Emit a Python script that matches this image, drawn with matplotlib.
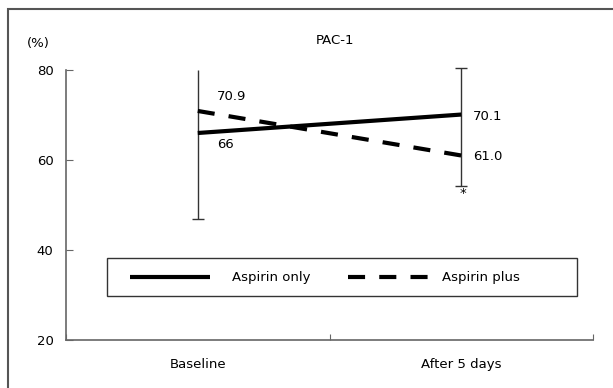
import numpy as np
import matplotlib
matplotlib.use('Agg')
import matplotlib.pyplot as plt
from matplotlib.patches import Rectangle
from matplotlib.lines import Line2D

# 데이터
categories = ['Baseline', 'After 5 days']
aspirin_only = [66.0, 70.1]
aspirin_plus = [70.9, 61.0]
only_labels = ['66', '70.1']
plus_labels = ['70.9', '61.0']
bar_low = [47.0, 54.3]
bar_high = [80.0, 80.4]
yticks = [20, 40, 60, 80]

plt.rcParams['font.family'] = ['DejaVu Sans']
fs = 9.5

fig = plt.figure(figsize=(6.13, 3.88), dpi=100)
W, H = 613, 388
ax = fig.add_axes([66 / W, 1 - 340 / H, (593 - 66) / W, (340 - 70) / H])

x = np.arange(len(categories)) + 0.5
axis_c = '#666666'

# 오차 막대 (Baseline 위쪽은 cap 없음)
ax.vlines(x, bar_low, bar_high, color='#333333', lw=1.0, clip_on=False)
ax.plot(x, bar_low, ls='none', marker='_', ms=8, mew=1.0, color='#333333', clip_on=False)
ax.plot(x[1:], bar_high[1:], ls='none', marker='_', ms=8, mew=1.0, color='#333333', clip_on=False)

# 선
ax.plot(x, aspirin_only, color='black', lw=3, solid_capstyle='butt')
ax.plot(x, aspirin_plus, color='black', lw=3, ls=(0, (4.1, 3.4)), dash_capstyle='butt')

# 값 표시
ax.text(x[0] + 0.105, aspirin_only[0] - 2.5, only_labels[0], ha='center', va='center', fontsize=fs)
ax.text(x[0] + 0.13, aspirin_plus[0] + 3.1, plus_labels[0], ha='center', va='center', fontsize=fs)
ax.text(x[1] + 0.046, aspirin_only[1] - 0.5, only_labels[1], ha='left', va='center', fontsize=fs)
ax.text(x[1] + 0.046, aspirin_plus[1] - 0.3, plus_labels[1], ha='left', va='center', fontsize=fs)
ax.text(x[1] + 0.007, bar_low[1] - 1.8, '*', ha='center', va='center', fontsize=fs)

ax.set_xlim(0, 2)
ax.set_ylim(20, 80)
ax.set_yticks(yticks)
ax.set_xticks([0, 1, 2])
ax.set_xticklabels([])
ax.set_xticks(x, minor=True)
ax.set_xticklabels(categories, minor=True, fontsize=fs)
ax.tick_params(axis='x', which='minor', length=0, pad=13)
ax.tick_params(axis='x', which='major', direction='in', length=4, color=axis_c)
ax.tick_params(axis='y', direction='in', length=5, pad=9, labelsize=fs, color=axis_c)
for s in ['top', 'right']:
    ax.spines[s].set_visible(False)
for s in ['left', 'bottom']:
    ax.spines[s].set_color(axis_c)
    ax.spines[s].set_linewidth(1.2)

# 범례 (수동)
x0, y0 = (107 - 66) / 527, (340 - 296) / 270
w, h = (577 - 107) / 527, (296 - 258) / 270
ax.add_patch(Rectangle((x0, y0), w, h, transform=ax.transAxes, fill=False,
                       edgecolor='#333333', lw=1.0))
yc = y0 + h / 2
ax.add_line(Line2D([(130 - 66) / 527, (210 - 66) / 527], [yc, yc], transform=ax.transAxes,
                   color='black', lw=3, solid_capstyle='butt'))
ax.text((232 - 66) / 527, yc, 'Aspirin only', transform=ax.transAxes, va='center', fontsize=fs)
ax.add_line(Line2D([(348 - 66) / 527, (428 - 66) / 527], [yc, yc], transform=ax.transAxes,
                   color='black', lw=3, ls=(0, (4.1, 3.4)), dash_capstyle='butt'))
ax.text((442 - 66) / 527, yc, 'Aspirin plus', transform=ax.transAxes, va='center', fontsize=fs)

# 제목, 단위
fig.text(335 / W, 1 - 41 / H, 'PAC-1', ha='center', va='center', fontsize=fs)
fig.text(38 / W, 1 - 44 / H, '(%)', ha='center', va='center', fontsize=fs)

# 바깥 테두리
fig.add_artist(Rectangle((8 / W, -0.05), 1.0, 1.05 - 9 / H, transform=fig.transFigure,
                         fill=False, edgecolor='#555555', lw=1.5))

fig.savefig('out.png', dpi=100)
